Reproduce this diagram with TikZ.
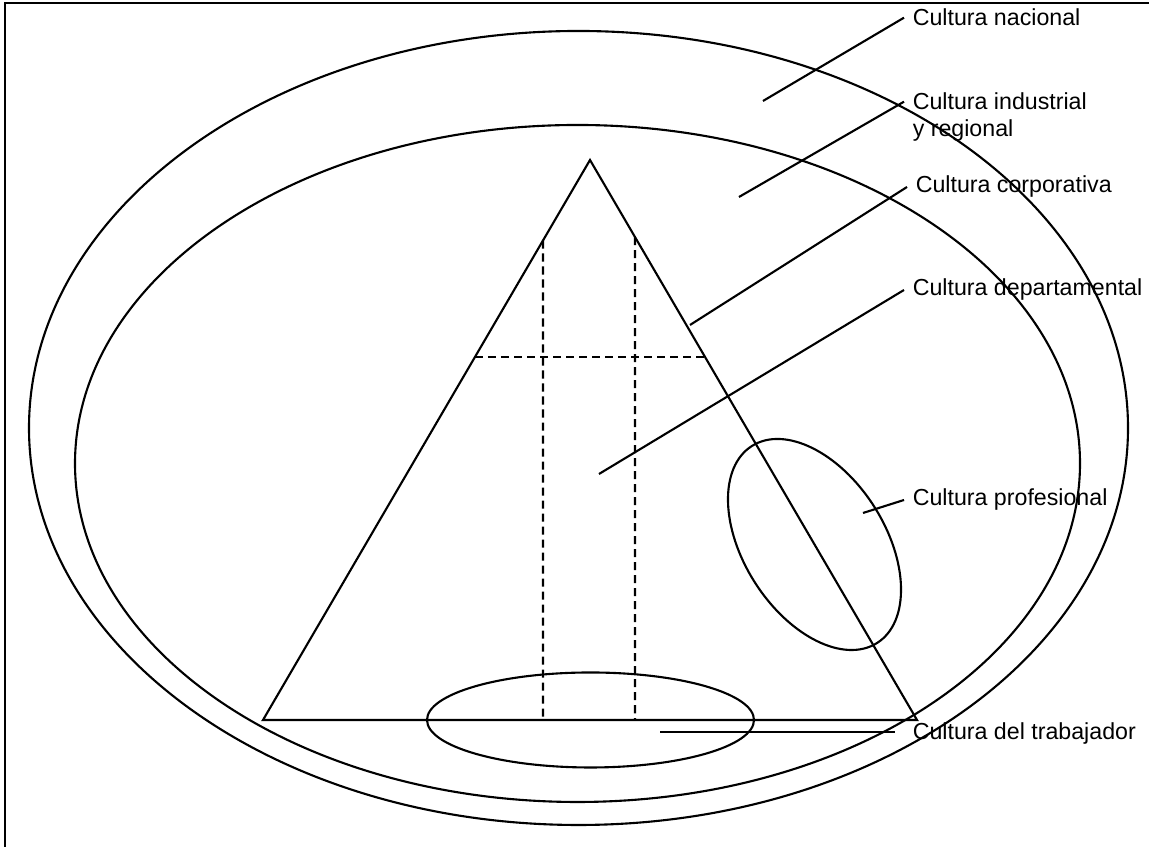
\documentclass[tikz,border=0pt]{standalone}
\usepackage{fontspec}
\setmainfont{Liberation Sans}
\tikzset{lbl/.style={anchor=base west, inner sep=2.2pt, font=\fontsize{6.6}{7.9}\selectfont},
  guion/.style={dash pattern=on 2.3pt off 1.4pt}}
\begin{document}
\begin{tikzpicture}[line width=.6pt]
\useasboundingbox (0,0) rectangle (11.49,8.47);
\draw (11.49,8.44)--(0.05,8.44)--(0.05,0);
% niveles
\draw (5.785,4.19) ellipse [x radius=5.495, y radius=3.97];
\draw (5.775,3.835) ellipse [x radius=5.025, y radius=3.385];
\coordinate (A) at (5.90,6.87);
\coordinate (L) at (2.63,1.27);
\coordinate (R) at (9.17,1.27);
\draw (L)--(A)--(R)--cycle;
\draw[guion] (intersection of L--A and 5.43,0--5.43,8)--(5.43,1.27);
\draw[guion] (intersection of R--A and 6.35,0--6.35,8)--(6.35,1.27);
\draw[guion] (intersection of L--A and 0,4.90--11,4.90)--(intersection of R--A and 0,4.90--11,4.90);
\draw (5.905,1.27) ellipse [x radius=1.635, y radius=.475];
\draw[rotate around={-57.5:(8.145,3.025)}] (8.145,3.025) ellipse [x radius=1.167, y radius=.707];
% textos
\node[lbl] (nac) at (9.04,8.21) {Cultura nacional};
\node[lbl] (ind) at (9.04,7.37) {Cultura industrial};
\node[lbl] (reg) at (9.04,7.10) {y regional};
\node[lbl] (corp) at (9.07,6.54) {Cultura corporativa};
\node[lbl] (dep) at (9.04,5.51) {Cultura departamental};
\node[lbl] (prof) at (9.04,3.41) {Cultura profesional};
\node[lbl] (trab) at (9.04,1.07) {Cultura del trabajador};
\coordinate (pnac) at (7.63,7.46);
\coordinate (pind) at (7.39,6.50);
\coordinate (pcorp) at (6.90,5.22);
\coordinate (pdep) at (5.99,3.73);
\coordinate (pprof) at (8.63,3.34);
\coordinate (ptrab) at (6.60,1.15);
\draw (pnac)--(nac.west);
\draw (pind)--(ind.west);
\draw (pcorp)--(corp.west);
\draw (pdep)--(dep.west);
\draw (pprof)--(prof.west);
\draw (ptrab)--([xshift=-.09cm]trab.west |- ptrab);
\end{tikzpicture}
\end{document}
